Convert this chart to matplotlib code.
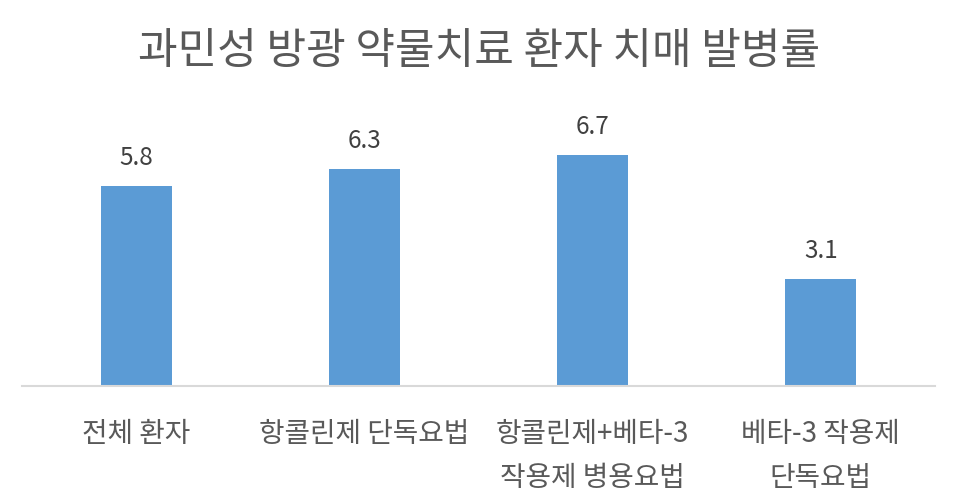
import matplotlib
matplotlib.use("Agg")
import matplotlib.pyplot as plt

plt.rcParams['font.family'] = ['Noto Sans CJK KR', 'DejaVu Sans']

title = "과민성 방광 약물치료 환자 치매 발병률"
categories = ["전체 환자", "항콜린제 단독요법", "항콜린제+베타-3\n작용제 병용요법", "베타-3 작용제\n단독요법"]
values = [5.8, 6.3, 6.7, 3.1]

fig = plt.figure(figsize=(9.59, 5.04), dpi=100)
ax = fig.add_axes([22/959, 1-386/504, (935-22)/959, (386-110.6)/504])
x = list(range(len(categories)))
bars = ax.bar(x, values, width=0.31, color="#5B9BD5", zorder=2)
ax.set_ylim(0, 8)
ax.set_xlim(-0.5, len(categories)-0.5)
for xi, v in zip(x, values):
    ax.text(xi, v + 0.45, f"{v:.1f}", ha="center", va="bottom", fontsize=17.5, color="#404040")
ax.set_yticks([])
ax.set_xticks(x)
ax.set_xticklabels(categories, fontsize=20, color="#595959", linespacing=1.6)
ax.tick_params(axis="x", length=0, pad=24)
for s in ["top", "right", "left"]:
    ax.spines[s].set_visible(False)
ax.spines["bottom"].set_color("#D9D9D9")
ax.spines["bottom"].set_linewidth(1.5)
fig.text(0.5, 1-52/504, title, ha="center", va="center", fontsize=31, color="#595959")
fig.savefig("out.png", dpi=100)
